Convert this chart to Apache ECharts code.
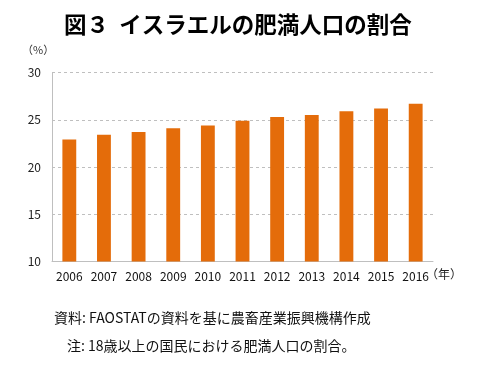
<!DOCTYPE html>
<html><head><meta charset="utf-8">
<script src="https://cdn.jsdelivr.net/npm/echarts@6/dist/echarts.min.js"></script>
<style>html,body{margin:0;padding:0;background:#fff}#c{width:485px;height:371px}</style>
</head><body><div id="c"></div>
<script>
const categories = ['2006','2007','2008','2009','2010','2011','2012','2013','2014','2015','2016'];
const values = [22.9, 23.4, 23.7, 24.1, 24.4, 24.9, 25.3, 25.5, 25.9, 26.2, 26.7];
const yTicks = [10, 15, 20, 25, 30];
const titleText = '図３  イスラエルの肥満人口の割合';
const note1 = '資料: FAOSTATの資料を基に農畜産業振興機構作成';
const note2 = '注: 18歳以上の国民における肥満人口の割合。';
const FONT = '"Noto Sans CJK JP", "Noto Sans", sans-serif';
const chart = echarts.init(document.getElementById('c'));
chart.setOption({
  animation: false,
  textStyle: {fontFamily: FONT},
  title: {text: titleText, left: 59, top: 8,
    textStyle: {fontSize: 22.5, fontWeight: 'bold', color: '#000', fontFamily: FONT}},
  graphic: [
    {type: 'text', left: 22, top: 44, style: {text: '（%）', fontSize: 11, fill: '#333', fontFamily: FONT}},
    {type: 'text', left: 426, top: 268, style: {text: '（年）', fontSize: 12, fill: '#222', fontFamily: FONT}},
    {type: 'text', left: 54, top: 311, style: {text: note1, fontSize: 14, fill: '#111', fontFamily: FONT}},
    {type: 'text', left: 67, top: 339, style: {text: note2, fontSize: 14, fill: '#111', fontFamily: FONT}}
  ],
  grid: {left: 52, right: 52, top: 72.5, bottom: 109.5, containLabel: false},
  xAxis: {type: 'category', data: categories,
    axisLine: {lineStyle: {color: '#bfbfbf', width: 1}},
    axisTick: {show: false},
    axisLabel: {fontSize: 12, color: '#111', margin: 9}},
  yAxis: {type: 'value', min: yTicks[0], max: yTicks[yTicks.length-1], interval: 5,
    axisLine: {show: true, lineStyle: {color: '#bfbfbf', width: 1}},
    axisTick: {show: false},
    axisLabel: {fontSize: 12, color: '#222', margin: 11},
    splitLine: {lineStyle: {color: '#bfbfbf', type: [3, 3]}}},
  series: [{type: 'bar', data: values, barWidth: '40%',
    itemStyle: {color: '#E46C0A'}}]
});
</script></body></html>
